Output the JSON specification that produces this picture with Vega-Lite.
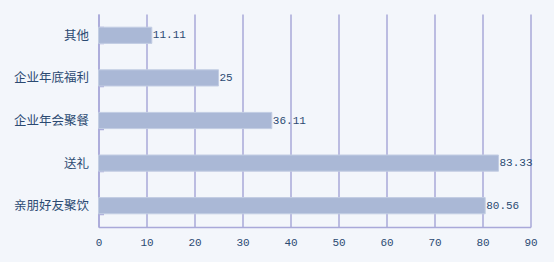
{
  "$schema": "https://vega.github.io/schema/vega-lite/v6.json",
  "width": 432,
  "height": 213,
  "autosize": {"type": "none"},
  "padding": {"left": 98.5, "top": 14, "right": 23.5, "bottom": 35},
  "background": "#F3F6FB",
  "config": {"view": {"stroke": null}},
  "data": {"values": [
    {"category": "其他", "value": 11.11},
    {"category": "企业年底福利", "value": 25},
    {"category": "企业年会聚餐", "value": 36.11},
    {"category": "送礼", "value": 83.33},
    {"category": "亲朋好友聚饮", "value": 80.56}
  ]},
  "encoding": {
    "y": {
      "field": "category", "type": "nominal",
      "sort": ["其他", "企业年底福利", "企业年会聚餐", "送礼", "亲朋好友聚饮"],
      "scale": {"paddingInner": 0.62, "paddingOuter": 0.31},
      "axis": {
        "title": null, "domainColor": "#A9A9D9", "domainWidth": 1.5,
        "tickColor": "#A9A9D9", "tickWidth": 1.5, "tickSize": -5, "tickBand": "extent",
        "labelFont": "Noto Sans CJK SC", "labelFontSize": 12.5, "labelColor": "#2B4A72",
        "labelPadding": 15, "grid": false
      }
    },
    "x": {
      "field": "value", "type": "quantitative",
      "scale": {"domain": [0, 90], "nice": false},
      "axis": {
        "title": null, "values": [0, 10, 20, 30, 40, 50, 60, 70, 80, 90],
        "domainColor": "#A9A9D9", "domainWidth": 1.5, "ticks": false,
        "grid": true, "gridColor": "#A9A9D9", "gridWidth": 1.5, "gridOpacity": 1,
        "labelFont": "Liberation Mono", "labelFontSize": 11, "labelColor": "#2B4A72",
        "labelPadding": 9, "labelFlush": false
      }
    }
  },
  "layer": [
    {"mark": {"type": "bar", "color": "#AAB8D6", "stroke": "#C2CDE3", "strokeWidth": 1}},
    {"mark": {"type": "text", "align": "left", "baseline": "middle", "dx": 1,
              "font": "Liberation Mono", "fontSize": 11, "color": "#2B4A72"},
     "encoding": {"text": {"field": "value", "type": "quantitative"}}}
  ]
}
